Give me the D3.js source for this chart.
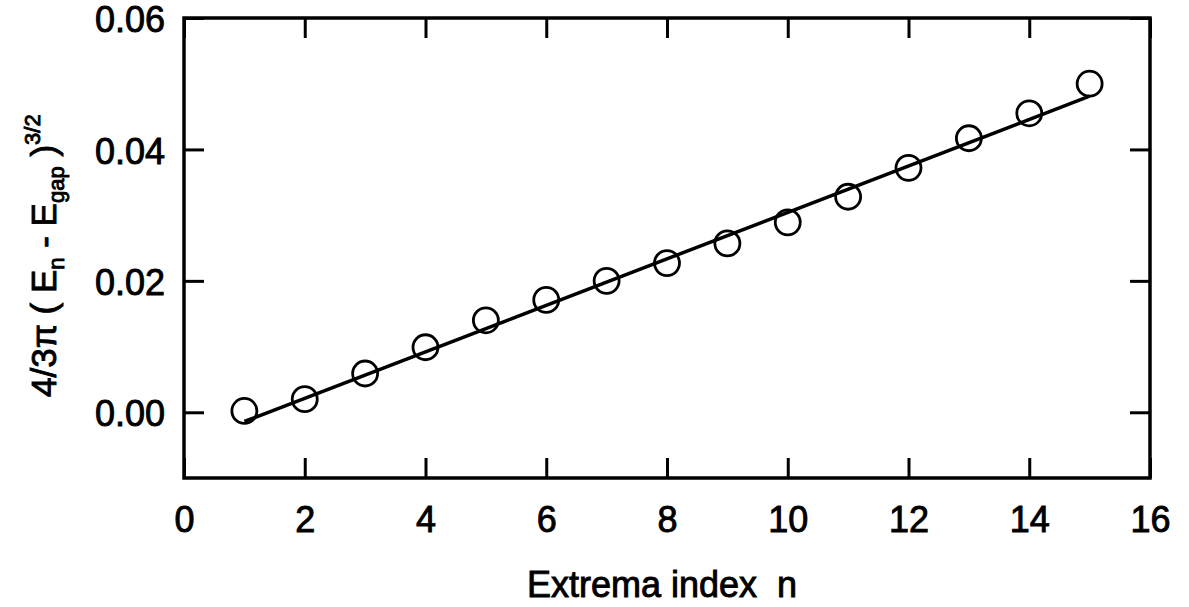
<!DOCTYPE html>
<html>
<head>
<meta charset="utf-8">
<style>
  body { margin: 0; background: #fff; }
  svg { display: block; font-family: 'Liberation Sans', Arial, Helvetica, sans-serif; }
  .lbl { fill: #000; stroke: #000; stroke-width: 0.9; }
</style>
</head>
<body>
<svg width="1189" height="607"></svg>
<script src="https://d3js.org/d3.v7.min.js"></script>
<script>
// extrema index n and measured 4/3pi (En - Egap)^(3/2)
let nIndex = [1, 2, 3, 4, 5, 6, 7, 8, 9, 10, 11, 12, 13, 14, 15];
let values = [0.0002, 0.0020, 0.0059, 0.0099, 0.0140, 0.0171, 0.0200, 0.0227, 0.0257, 0.0289, 0.0328, 0.0372, 0.0417, 0.0455, 0.0500];

// straight line fit, end points
let fitX = [1, 15];
let fitY = [-0.0014, 0.0481];

let xTicks = [0, 2, 4, 6, 8, 10, 12, 14, 16];
let yTicks = [0.00, 0.02, 0.04, 0.06];

let margin = { left: 184, right: 39, top: 18, bottom: 129 };
let width = 1189, height = 607;

let svg = d3.select("svg");

let x = d3.scaleLinear().domain([0, 16]).range([margin.left, width - margin.right]);
let y = d3.scaleLinear().domain([-0.01, 0.06]).range([height - margin.bottom, margin.top]);

let tickLen = 20;

// inward ticks on all four sides
let gx = svg.append("g").attr("transform", "translate(0," + y(-0.01) + ")")
    .call(d3.axisBottom(x).tickValues(xTicks).tickSize(-tickLen).tickPadding(28).tickFormat(d3.format("d")));
let gxTop = svg.append("g").attr("transform", "translate(0," + y(0.06) + ")")
    .call(d3.axisTop(x).tickValues(xTicks).tickSize(-tickLen).tickFormat(""));
let gy = svg.append("g").attr("transform", "translate(" + x(0) + ",0)")
    .call(d3.axisLeft(y).tickValues(yTicks).tickSize(-tickLen).tickPadding(19).tickFormat(d3.format(".2f")));
let gyRight = svg.append("g").attr("transform", "translate(" + x(16) + ",0)")
    .call(d3.axisRight(y).tickValues(yTicks).tickSize(-tickLen).tickFormat(""));

[gx, gxTop, gy, gyRight].forEach(g => {
    g.select(".domain").remove();
    g.selectAll(".tick line").attr("stroke", "#000").attr("stroke-width", 3);
    g.selectAll("text").attr("class", "lbl").style("font-size", "36px").attr("fill", "#000");
});
gx.selectAll("text").attr("dy", "0.71em");
gy.selectAll("text").attr("dy", "0.38em");

// frame
svg.append("rect")
    .attr("x", x(0)).attr("y", y(0.06))
    .attr("width", x(16) - x(0)).attr("height", y(-0.01) - y(0.06))
    .attr("fill", "none").attr("stroke", "#000").attr("stroke-width", 3.5);

// fit line
let line = d3.line().x(d => x(d[0])).y(d => y(d[1]));
svg.append("path")
    .datum(d3.zip(fitX, fitY))
    .attr("d", line)
    .attr("fill", "none").attr("stroke", "#000").attr("stroke-width", 3.5);

// data points
svg.append("g").selectAll("circle")
    .data(d3.zip(nIndex, values))
    .join("circle")
    .attr("cx", d => x(d[0]))
    .attr("cy", d => y(d[1]))
    .attr("r", 12.5)
    .attr("fill", "none")
    .attr("stroke", "#000")
    .attr("stroke-width", 2.8);

// x label
svg.append("text")
    .attr("class", "lbl")
    .attr("x", 662).attr("y", 597)
    .attr("text-anchor", "middle")
    .style("font-size", "36px")
    .attr("xml:space", "preserve")
    .text("Extrema index  n");

// y label, rotated
let yl = svg.append("text")
    .attr("class", "lbl")
    .attr("transform", "translate(56,397) rotate(-90)")
    .attr("text-anchor", "start")
    .style("font-size", "35px");
yl.append("tspan").text("4/3\u03C0 ( E");
yl.append("tspan").attr("dy", 8).style("font-size", "22px").text("n");
yl.append("tspan").attr("dy", -8).text(" - E");
yl.append("tspan").attr("dy", 8).style("font-size", "22px").text("gap");
yl.append("tspan").attr("dy", -8).text(" )");
yl.append("tspan").attr("dy", -16).style("font-size", "22px").text("3/2");
</script>
</body>
</html>
